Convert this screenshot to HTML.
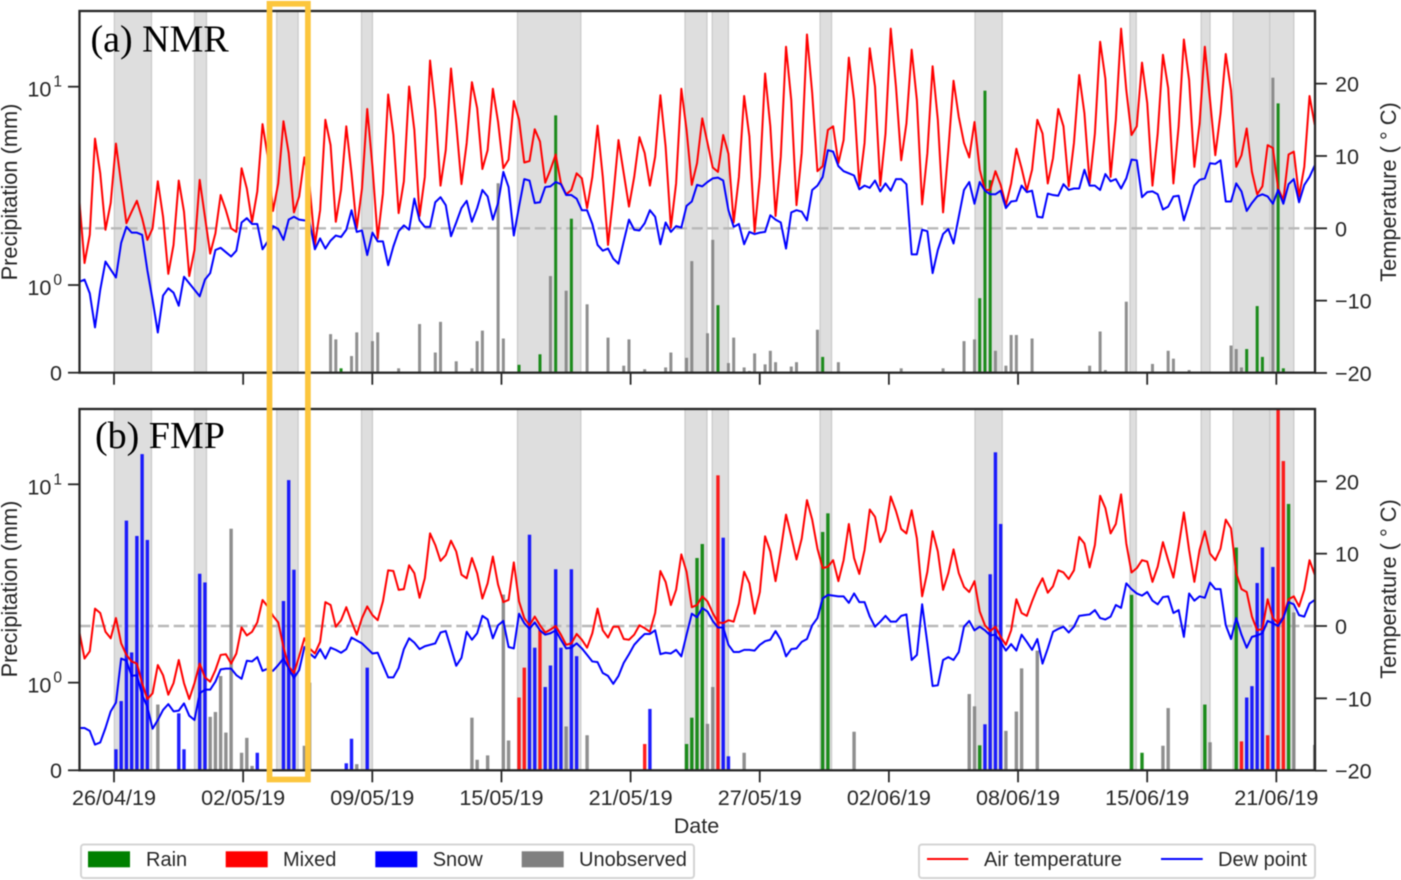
<!DOCTYPE html>
<html lang="en">
<head>
<meta charset="utf-8">
<title>Precipitation and temperature: NMR and FMP</title>
<style>
html,body{margin:0;padding:0;background:#fff;}
svg{display:block;font-family:"Liberation Sans",Arial,sans-serif;fill:#262626;filter:blur(0.45px);}
.tick-text{font-size:21.6px;}
.axis-title{font-size:21.8px;}
.legend-text{font-size:20px;}
.date-title{font-size:21.6px;}
.panel-title{font-family:"Liberation Serif",serif;font-size:38px;fill:#000;}
</style>
</head>
<body>
<svg id="chart" xmlns="http://www.w3.org/2000/svg" width="1401" height="880" viewBox="0 0 1401 880">
  <defs>
    <clipPath id="clip-a"><rect x="79.5" y="11" width="1235.5" height="361.7"/></clipPath>
    <clipPath id="clip-b"><rect x="79.5" y="409" width="1235.5" height="361.3"/></clipPath>
  </defs>
  <g id="panel-a"></g>
  <g id="panel-b"></g>

  <text class="panel-title" x="90.5" y="51.7">(a) NMR</text>
  <text class="panel-title" x="95" y="448">(b) FMP</text>

  <text class="axis-title" transform="translate(17,192) rotate(-90)" text-anchor="middle">Precipitation (mm)</text>
  <text class="axis-title" transform="translate(17,589) rotate(-90)" text-anchor="middle">Precipitation (mm)</text>
  <text class="axis-title" transform="translate(1396,192) rotate(-90)" text-anchor="middle">Temperature ( ° C)</text>
  <text class="axis-title" transform="translate(1396,589) rotate(-90)" text-anchor="middle">Temperature ( ° C)</text>
  <text class="date-title" x="696.5" y="833" text-anchor="middle">Date</text>

  <g>
    <rect x="81" y="844.5" width="613" height="33.5" rx="3" fill="#fff" stroke="#d4d4d4" stroke-width="2"/>
    <rect x="88" y="851.3" width="42" height="16" fill="#008000"/>
    <text class="legend-text" x="146" y="866">Rain</text>
    <rect x="225.7" y="851.3" width="42" height="16" fill="#ff0000"/>
    <text class="legend-text" x="283" y="866">Mixed</text>
    <rect x="375.3" y="851.3" width="42" height="16" fill="#0000ff"/>
    <text class="legend-text" x="432.7" y="866">Snow</text>
    <rect x="521.7" y="851.3" width="42" height="16" fill="#808080"/>
    <text class="legend-text" x="579" y="866">Unobserved</text>
  </g>
  <g>
    <rect x="919" y="844.5" width="396" height="33.5" rx="3" fill="#fff" stroke="#d4d4d4" stroke-width="2"/>
    <line x1="927" y1="859" x2="968.3" y2="859" stroke="#ff0000" stroke-width="1.9"/>
    <text class="legend-text" x="984" y="866">Air temperature</text>
    <line x1="1161" y1="859" x2="1202.7" y2="859" stroke="#0000ff" stroke-width="1.9"/>
    <text class="legend-text" x="1218" y="866">Dew point</text>
  </g>

  <rect id="highlight" x="269.5" y="3.8" width="38.4" height="775.7" fill="none" stroke="#fcc63e" stroke-width="5.7"/>
</svg>

<script>
// ---- Chart data (6-hourly samples, index 0..236) ----
const dateTickLabels = ['26/04/19','02/05/19','09/05/19','15/05/19','21/05/19','27/05/19','02/06/19','08/06/19','15/06/19','21/06/19'];
const tempTicks = [-20,-10,0,10,20];
const precipTicks = [0,1,10];

// Shaded periods in sample index units
const shadedStart = [6.7,22.0,37.7,53.9,83.7,115.7,120.9,141.5,171.1,200.7,214.3,220.4,227.4];
const shadedEnd   = [13.8,24.3,41.8,56.0,95.8,119.9,124.0,143.7,176.3,201.9,216.0,227.4,232.0];

// Air temperature and dew point (deg C)
const nmrAirTemp = [3.9,-4.8,-0.9,12.4,7.6,-0.2,3.5,11.7,6.2,0.7,2.3,3.8,1.4,-1.6,0,6.5,1.6,-6.3,-2.3,6.6,2.3,-6.6,-3.0,6.7,1.6,-3.5,-0.7,4.6,2.5,0,-0.5,8.3,5.5,0.9,5.1,14.4,9.9,2.4,6.2,14.8,10.4,2.2,4.4,9.8,5.8,-2.3,2.5,15.0,11.5,0.9,5.3,14.1,7.6,0,5.5,16.5,8.5,-1.4,4.8,18.5,12.9,2.1,6.5,19.6,13.6,1.7,7.1,23.2,16.4,5.9,10.8,22.1,14.5,6.1,11.8,20.2,16.6,8.2,10.8,19.3,
14.7,8.3,9.5,17.6,15.0,9.1,9.3,13.7,12.0,6.3,8.1,10.2,6.2,4.7,5.3,7.6,6.9,2.8,7.1,14.2,7.1,-2.3,4.4,12.2,7.6,3.0,7.1,12.6,10.4,5.9,9.9,18.4,11.3,0.1,6.2,19.3,13.6,6.0,9.0,15.2,11.8,8.4,7.8,12.9,10.3,0.8,7.1,18.3,12.7,-0.5,7.1,21.4,14.1,1.7,9.9,25.1,17.7,3.2,10.4,26.8,18.7,7.9,8.6,13.6,14.1,9.0,12.2,23.6,17.7,5.9,11.8,24.9,19.6,5.9,13.1,27.6,19.6,9.4,14.5,24.7,17.7,3.3,10.4,22.4,15.0,2.2,10.8,20.4,
15.4,11.8,9.8,14.7,8.1,5.3,5.3,7.9,6.0,3.2,6.2,11.0,8.3,5.2,8.1,15.0,13.1,6.2,9.7,16.5,14.1,5.8,11.8,21.2,15.9,6.2,13.1,25.8,20.7,7.1,15.0,27.6,19.1,12.9,14.1,22.9,17.3,5.9,13.1,24.0,19.4,6.2,14.1,26.1,20.5,8.5,14.5,25.1,17.7,10.1,15.9,24.1,19.1,8.5,10.1,13.8,7.8,4.7,5.8,11.5,11.1,5.5,3.9,10.2,10.6,4.4,8.5,18.3,14.3];

const nmrDewPoint = [-7.4,-7.1,-9.0,-13.7,-8.5,-4.6,-5.7,-6.8,-2.0,0.2,-0.6,-0.6,-0.9,-5.8,-9.9,-14.4,-9.3,-8.3,-8.9,-10.7,-6.7,-7.6,-8.5,-9.4,-7.1,-6.2,-3.0,-2.7,-3.3,-3.9,-3.1,0.8,1.4,0.6,0.6,-2.9,-1.8,0.3,-0.1,-1.6,1.2,1.6,1.2,1.1,
0.9,-2.9,-1.4,-2.8,-1.7,-1.0,-1.2,-0.2,2.5,-0.5,-0.3,-3.7,-0.6,-1.8,-1.8,-5.1,-2.5,-0.4,0.4,-0.2,4.1,1.1,0.2,0.2,3.6,4.3,3.2,-1.1,0.8,2.8,3.8,0.9,2.8,5.3,4.4,1.2,
3.5,7.8,5.7,-1.0,3.0,6.8,6.6,3.5,3.6,5.7,5.8,6.4,6.1,4.6,4.6,4.1,2.5,2.5,0.6,-2.3,-3.1,-2.8,-4.2,-4.9,-1.8,1.2,-0.2,-0.3,0.7,2.5,1.6,-2.2,0.8,-0.5,0.3,0.1,3.1,3.7,6.0,5.8,6.4,6.9,7.0,6.6,2.5,0.2,0.6,-2.2,-0.5,-0.8,-0.6,-0.5,1.8,1.2,0.8,-2.8,2.2,2.5,2.3,1.1,5.3,5.9,7.1,10.8,10.6,8.6,7.9,7.6,7.3,5.4,5.9,5.6,6.6,5.1,6.2,5.2,6.8,6.8,6.1,-3.6,-3.6,-0.2,-0.4,-6.2,-3.0,-0.8,-0.1,-2.1,
1.6,5.3,6.4,3.4,6.4,5.2,4.7,4.7,5.2,2.8,3.7,3.8,5.9,5.0,5.2,1.6,1.5,4.8,4.6,4.5,6.1,5.3,5.5,5.5,8.1,5.9,5.9,5.3,7.5,6.5,6.8,5.5,6.9,9.5,9.4,4.3,5.0,5.1,4.7,2.6,3.0,4.4,4.5,1.1,3.4,5.9,6.7,6.9,9.0,8.9,9.4,3.7,3.7,6.2,5.1,2.4,3.5,4.4,4.7,4.4,3.4,5.3,3.4,6.1,6.8,3.6,6.0,7.1,8.7];

const fmpAirTemp = [-0.8,-4.5,-3.5,2.4,1.8,-0.8,-1.7,1.1,-2.4,-4.0,-4.9,-5.2,-7.9,-10.1,-9.3,-5.4,-6.8,-9.5,-7.9,-4.7,-7.9,-10.1,-7.9,-5.2,-7.1,-7.7,-6.1,-4.0,-3.9,-5.2,-3.8,-0.2,-1.3,-0.8,0.5,3.6,2.7,1.4,0.5,-2.9,-5.6,-6.5,-4.2,-1.7,-3.1,-3.8,-2.2,3.3,2.9,-0.1,0.8,2.6,0.6,-1.2,1.1,2.7,1.5,0.8,3.4,7.7,7.6,5.0,5.1,8.4,7.3,3.9,6.6,12.8,11.2,9.0,9.8,11.8,10.3,7.1,6.6,9.4,7.3,3.8,5.9,9.6,
5.7,3.3,3.6,8.8,3.4,1.1,0.1,1.3,0.1,-0.9,-0.5,0.0,-1.2,-2.6,-2.4,-1.1,-1.9,-3.0,-1.0,2.4,-0.6,-1.6,-0.1,-0.1,-1.8,-1.9,-1.2,0.1,-0.3,-0.8,1.8,7.6,6.1,2.9,5.0,9.9,7.5,2.6,2.9,4.1,3.4,1.8,0.5,0.4,0.8,0.6,3.1,7.5,5.9,1.7,4.7,12.4,10.3,6.2,10.5,15.4,12.4,9.2,12.1,17.4,14.7,10.7,8.0,8.2,9.1,6.2,9.1,14.1,9.4,7.2,10.5,16.1,15.1,11.6,13.2,17.9,15.9,13.4,12.8,16.0,12.1,4.1,7.5,13.1,10.3,5.0,7.3,10.6,
7.3,5.4,4.7,6.2,2.0,0.1,-0.7,-0.1,-1.5,-2.6,-0.6,3.7,1.8,1.4,3.4,5.2,6.6,4.6,5.5,7.7,7.4,6.5,7.7,12.3,11.4,8.1,11.2,18.0,16.3,12.8,14.1,18.2,11.4,7.4,8.0,9.1,8.9,6.1,8.2,11.6,9.1,6.7,11.0,15.7,10.5,6.1,10.5,13.1,10.0,9.1,10.7,14.7,13.5,7.3,5.1,4.7,1.3,-0.6,-0.4,3.7,1.1,0.4,1.3,3.7,4.1,2.7,5.0,9.1,7.1];

const fmpDewPoint = [-14.1,-14.1,-14.5,-16.4,-16.1,-14.1,-11.8,-10.6,-4.5,-4.8,-6.9,-6.8,-9.5,-11.2,-14.2,-13.0,-11.6,-10.8,-11.8,-11.7,-10.7,-12.4,-13.0,-9.3,-8.8,-8.8,-7.7,-6.0,-5.9,-5.9,-6.8,-7.3,-4.8,-4.9,-4.3,-6.2,-5.9,-6.2,-5.4,-4.5,-5.9,-7.2,-6.1,-2.9,-3.8,-4.4,-3.2,-4.5,-3.0,-3.3,-3.7,-3.2,-1.6,-2.0,-2.4,-3.1,-3.8,-3.7,-5.4,-7.1,-7.1,-5.8,-3.2,-1.7,-2.3,-3.2,-2.8,-2.6,-2.4,-0.9,-0.7,-3.1,-5.5,-4.4,-0.8,-1.9,-1.0,1.4,0.9,-1.7,
0.1,0.7,-2.9,-3.1,1.7,0.4,-0.4,0.5,-0.6,-1.2,-1.0,-0.6,-1.9,-3.1,-3.0,-2.4,-3.1,-4.0,-4.9,-5.0,-6.5,-6.9,-8.0,-6.9,-5.1,-3.9,-2.6,-1.8,-1.1,-1.1,-0.6,-3.9,-3.7,-3.8,-3.3,-4.2,-1.2,1.7,1.2,2.5,2.0,0.7,-0.2,-0.2,-2.6,-3.6,-3.6,-3.3,-3.3,-3.4,-2.6,-2.1,-1.9,-0.7,-1.9,-4.2,-3.2,-3.1,-2.2,-1.8,0.1,1.1,3.8,4.3,4.2,4.1,4.1,3.2,4.5,3.3,3.3,1.3,-0.1,0.6,1.4,0.6,0.6,1.4,1.6,-4.7,-4.0,3.0,-2.4,-8.3,-8.2,-4.7,-4.3,-4.7,
-3.6,-0.1,0.7,-0.6,-0.1,-0.6,-1.3,-1.2,-2.2,-3.4,-2.5,-3.4,-1.2,-2.2,-3.3,-1.8,-5.2,-3.1,-0.8,-0.4,-0.1,-0.9,-0.1,1.4,1.5,1.6,2.2,1.1,0.9,1.3,2.9,2.5,5.9,5.1,4.5,4.2,4.7,3.5,3.0,4.0,4.1,1.8,2.2,-1.5,4.5,3.5,4.1,3.9,6.0,5.1,5.1,0.1,-1.8,1.1,-1.2,-3.0,-1.5,-1.3,-1.0,0.7,0.4,0.0,1.1,3.3,3.0,1.5,1.3,3.1,3.6];

// Daily precipitation bars: sample index, amount (mm), phase
const nmrBarIndex = [48,49,50,52,53,56,57,60,61,65,68,69,72,75,76,77,80,81,84,88,90,91,93,94,97,101,104,105,108,112,113,116,117,120,121,122,124,125,127,128,129,131,132,133,136,137,141,142,145,157,165,169,171,172,173,174,175,177,178,179,182,193,195,196,200,205,208,209,212,220,221,222,223,225,226,228,229,230];
const nmrBarValue = [0.44,0.38,0.05,0.19,0.46,0.36,0.46,0.01,0.05,0.555,0.23,0.58,0.13,0.05,0.36,0.48,3.26,0.39,0.09,0.21,1.11,7.17,0.935,2.16,0.78,0.40,0.08,0.38,0.04,0.06,0.23,0.17,1.32,0.45,1.69,0.77,0.11,0.40,0.06,0.02,0.22,0.095,0.25,0.12,0.07,0.12,0.49,0.18,0.12,0.05,0.05,0.36,0.38,0.85,9.55,3.38,0.25,0.08,0.43,0.43,0.39,0.08,0.47,0.03,0.81,0.10,0.25,0.16,0.03,0.31,0.27,0.06,0.27,0.76,0.18,11.1,8.24,0.05];
const nmrBarType = ['U','U','R','U','U','U','U','U','U','U','U','U','U','U','U','U','U','U','R','R','U','R','U','R','U','U','U','U','U','U','U','U','U','U','U','R','U','U','U','U','U','U','U','U','U','U','U','R','U','U','U','U','U','R','R','R','U','U','U','U','U','U','U','U','U','U','U','U','U','U','U','U','R','R','R','U','R','R'];

const fmpBarIndex = [7,8,9,10,11,12,13,15,19,20,23,24,25,26,27,28,29,31,32,33,34,39,40,41,43,44,51,52,53,55,75,76,78,81,82,84,85,86,87,88,89,90,91,92,93,94,95,97,108,109,116,117,118,119,120,121,122,123,124,127,142,143,148,170,171,172,173,174,175,176,177,179,180,183,201,203,207,208,215,216,221,222,223,224,225,226,227,228,229,230,231,232,236];
const fmpBarValue = [0.24,0.79,6.56,1.42,5.49,14.2,5.24,0.75,0.65,0.24,3.54,3.2,0.61,0.665,1.08,0.43,5.97,0.20,0.37,0.05,0.20,2.58,10.5,3.71,0.28,1.0,0.08,0.36,0.07,1.19,0.60,0.12,0.17,2.78,0.34,0.83,1.19,5.57,1.5,1.84,0.95,1.22,3.73,1.5,0.50,3.73,1.36,0.40,0.30,0.70,0.30,0.60,4.25,5.0,0.53,0.95,11.1,5.38,0.16,0.20,5.75,7.14,0.44,0.87,0.73,0.285,0.525,3.52,14.5,6.31,0.45,0.67,1.18,1.45,2.77,0.20,0.28,0.71,0.75,0.32,4.8,0.33,0.83,0.96,3.18,4.81,0.40,3.83,30,13.1,7.96,2.26,0.29];
const fmpBarType = ['S','S','S','S','S','S','S','U','S','S','S','S','U','U','U','U','U','U','U','U','S','S','S','S','U','U','S','S','U','S','U','U','U','U','U','M','M','S','S','M','S','S','S','S','U','S','S','U','M','S','R','R','R','R','U','U','M','S','S','U','R','R','U','U','U','R','S','S','S','S','U','U','U','U','R','R','U','U','R','U','R','M','S','S','S','S','M','S','M','M','R','U','U'];

// ---- Axis functions ----
const plotLeft = 79.3, sampleStep = 5.235;
const firstTickIndex = 6.63, tickEvery = 24.67;
function xScale(i){ return plotLeft + i * sampleStep; }
function tempScale(t, zeroY){ return zeroY - t * 7.233; }
function precipScale(v, baseY){
  if (v <= 1) return baseY - v * 87.67;
  return baseY - 87.67 - 198.33 * Math.log10(v);
}

const SVGNS = 'http://www.w3.org/2000/svg';
const phaseColor = {R:'#008000', M:'#ff0000', S:'#0000ff', U:'#808080'};
const phaseName = {R:'rain', M:'mixed', S:'snow', U:'unobserved'};
function make(tag, parent, props){
  const el = document.createElementNS(SVGNS, tag);
  for (const k in props) el.setAttribute(k, props[k]);
  parent.appendChild(el);
  return el;
}

function drawPanel(cfg){
  const g = document.getElementById(cfg.groupId);
  const plot = make('g', g, {'clip-path':'url(#' + cfg.clipId + ')'});
  
  

  shadedStart.forEach(function(s, k){
    const x0 = xScale(s), x1 = xScale(shadedEnd[k]);
    const span = make('rect', plot, {x:x0, y:cfg.top, width:x1 - x0, height:cfg.base - cfg.top, fill:'#dedede', stroke:'#c9c9c9', 'stroke-width':1.2});
    
    
  });

  const zeroLine = make('line', plot, {x1:79.5, x2:1315, y1:tempScale(0, cfg.zero), y2:tempScale(0, cfg.zero), stroke:'#b8b8b8', 'stroke-width':2.4, 'stroke-dasharray':'11 4.7'});
  
  

  cfg.barIndex.forEach(function(idx, k){
    const y = precipScale(cfg.barValue[k], cfg.base);
    const bar = make('rect', plot, {x:xScale(idx) - cfg.barWidth / 2, y:y, width:cfg.barWidth, height:cfg.base - y, fill:phaseColor[cfg.barType[k]], 'fill-opacity':0.88});
    
    
  });

  const pts = function(arr){
    return arr.map(function(t, i){ return xScale(i).toFixed(2) + ',' + tempScale(t, cfg.zero).toFixed(2); }).join(' ');
  };
  const air = make('polyline', plot, {points:pts(cfg.air), fill:'none', stroke:'#ff0000', 'stroke-width':2, 'stroke-linejoin':'round'});
  
  
  const dew = make('polyline', plot, {points:pts(cfg.dew), fill:'none', stroke:'#0000ff', 'stroke-width':2, 'stroke-linejoin':'round'});
  
  

  // Left ticks
  precipTicks.forEach(function(v){
    const y = precipScale(v, cfg.base);
    const tick = make('line', g, {x1:68, x2:79.5, y1:y, y2:y, stroke:'#262626', 'stroke-width':1.8});
    
    
    const label = make('text', g, {x:62, y:y + (v === 0 ? 7.7 : 10), 'text-anchor':'end', 'class':'tick-text'});
    
    
    if (v === 0) {
      label.textContent = '0';
    } else {
      label.textContent = '10';
      const exp = make('tspan', label, {dx:2, dy:-10, 'font-size':'15.5px'});
      exp.textContent = String(Math.round(Math.log10(v)));
    }
  });

  // Right ticks
  tempTicks.forEach(function(t){
    const y = tempScale(t, cfg.zero);
    const tick = make('line', g, {x1:1315, x2:1327, y1:y, y2:y, stroke:'#262626', 'stroke-width':1.8});
    
    
    const label = make('text', g, {x:1335, y:y + 8, 'class':'tick-text'});
    
    
    label.textContent = String(t).replace('-', '\u2212');
  });

  // Date ticks
  dateTickLabels.forEach(function(txt, k){
    const x = xScale(firstTickIndex + k * tickEvery);
    const tick = make('line', g, {x1:x, x2:x, y1:cfg.base, y2:cfg.base + 12, stroke:'#262626', 'stroke-width':1.8});
    
    
    if (cfg.showDates) {
      const label = make('text', g, {x:x, y:cfg.base + 34.7, 'text-anchor':'middle', 'class':'tick-text'});
      
      
      label.textContent = txt;
    }
  });

  const frame = make('rect', g, {x:79.5, y:cfg.top, width:1235.5, height:cfg.base - cfg.top, fill:'none', stroke:'#262626', 'stroke-width':2.3});
  
  
}

drawPanel({groupId:'panel-a', clipId:'clip-a', top:11, base:372.7, zero:228.3, barWidth:3, showDates:false,
  air:nmrAirTemp, dew:nmrDewPoint, barIndex:nmrBarIndex, barValue:nmrBarValue, barType:nmrBarType});
drawPanel({groupId:'panel-b', clipId:'clip-b', top:409, base:770.3, zero:626, barWidth:3.4, showDates:true,
  air:fmpAirTemp, dew:fmpDewPoint, barIndex:fmpBarIndex, barValue:fmpBarValue, barType:fmpBarType});
</script>
</body>
</html>
